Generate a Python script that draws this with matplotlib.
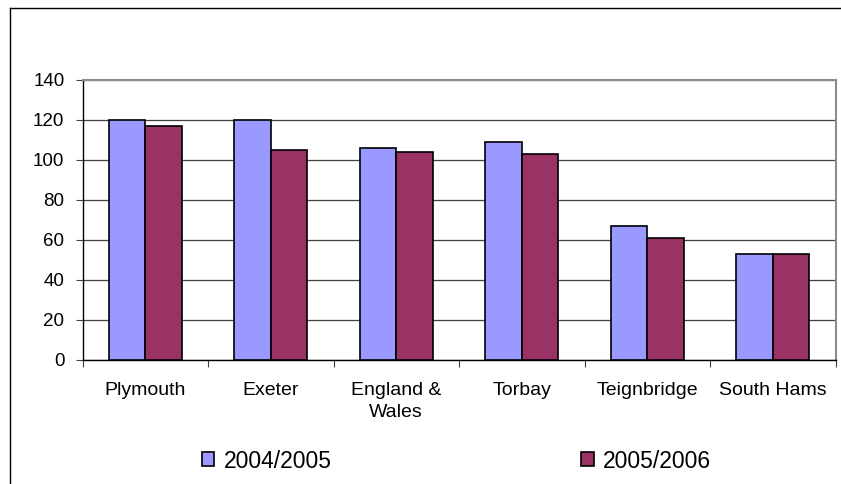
import numpy as np
import matplotlib
matplotlib.use("Agg")
import matplotlib.pyplot as plt
from matplotlib.lines import Line2D

categories = ["Plymouth", "Exeter", "England &\nWales", "Torbay", "Teignbridge", "South Hams"]
series_names = ["2004/2005", "2005/2006"]
values_0405 = [120, 120, 106, 109, 67, 53]
values_0506 = [117, 105, 104, 103, 61, 53]
y_ticks = [0, 20, 40, 60, 80, 100, 120, 140]

colors = ["#9999FF", "#993366"]

plt.rcParams["font.family"] = ["Liberation Sans", "DejaVu Sans"]

fig = plt.figure(figsize=(8.41, 4.84), dpi=100)
W, H = 841, 484

# plot area in pixels: left 82.5, right 835.5, top 80, bottom 360
ax = fig.add_axes([82.5 / W, 1 - 360 / H, 753 / W, 280 / H])

x = np.arange(len(categories))
bw = 0.29
for i, (vals, name) in enumerate(zip([values_0405, values_0506], series_names)):
    ax.bar(x + (i - 0.5) * bw, vals, width=bw, color=colors[i],
           edgecolor="black", linewidth=1.2, label=name, zorder=3)

ax.set_xlim(-0.5, len(categories) - 0.5)
ax.set_ylim(0, 140)
ax.set_yticks(y_ticks)
ax.yaxis.grid(True, color="#404040", linewidth=0.9, zorder=0)
ax.set_axisbelow(True)

ax.set_xticks(x)
ax.set_xticklabels(categories, fontsize=14, linespacing=1.45)
ax.tick_params(axis="x", length=0, pad=15.5)
ax.set_xticks(np.arange(-0.5, len(categories)), minor=True)
ax.tick_params(axis="x", which="minor", length=5, direction="out", width=0.8, color="#404040")
ax.tick_params(axis="y", length=5, direction="out", width=0.8, pad=8, labelsize=13.5, color="#404040")

for s in ["left", "bottom"]:
    ax.spines[s].set_color("#000000")
    ax.spines[s].set_linewidth(1.0)
for s in ["top", "right"]:
    ax.spines[s].set_color("#8c8c8c")
    ax.spines[s].set_linewidth(1.5)

# legend
handles, labels = ax.get_legend_handles_labels()
fig.legend(handles, labels, ncol=2, loc="center", bbox_to_anchor=(456.5 / W, 1 - 461 / H),
           frameon=False, fontsize=16.5, handlelength=0.55, handleheight=0.55,
           handletextpad=0.4, columnspacing=10.9)

# outer chart border (top and left visible)
fig.add_artist(Line2D([9.5 / W, 1.0], [1 - 7.5 / H, 1 - 7.5 / H], color="black", linewidth=1.0,
                      transform=fig.transFigure))
fig.add_artist(Line2D([9.5 / W, 9.5 / W], [0.0, 1 - 7.5 / H], color="black", linewidth=1.0,
                      transform=fig.transFigure))

fig.savefig("out.png", dpi=100, facecolor="white")
